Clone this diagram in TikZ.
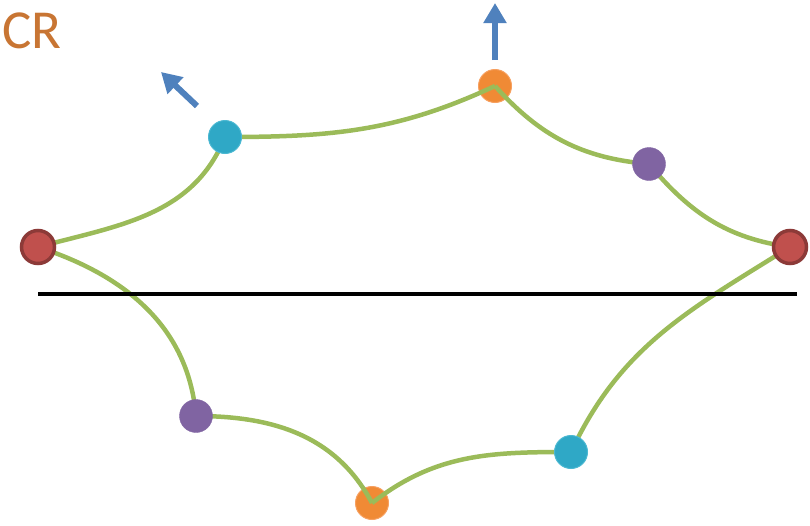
\documentclass[tikz,border=0pt]{standalone}
\usepackage{fontspec}
\setmainfont{Carlito}
\usetikzlibrary{arrows.meta}
\definecolor{grn}{HTML}{9BBB59}
\definecolor{redf}{HTML}{C0504D}
\definecolor{redd}{HTML}{8C3A38}
\definecolor{cyf}{HTML}{2FA8C6}
\definecolor{cyd}{HTML}{4BB8D2}
\definecolor{purf}{HTML}{8064A2}
\definecolor{orf}{HTML}{F08A35}
\definecolor{ord}{HTML}{F7A060}
\definecolor{blu}{HTML}{4F81BD}
\definecolor{crcol}{HTML}{C87533}
\pgfdeclarelayer{orng}\pgfdeclarelayer{lines}
\pgfsetlayers{orng,lines,main}
\tikzset{
  ball/.style={circle,minimum size=#1,inner sep=0pt},
  redball/.style={ball=33pt,fill=redf,draw=redd,line width=3.5pt},
  cyball/.style={ball=33pt,fill=cyf,draw=cyd,line width=1pt},
  purball/.style={ball=33pt,fill=purf,draw=purf},
  orball/.style={ball=33pt,fill=orf,draw=ord,line width=1pt},
  link/.style={draw=grn,line width=4.5pt},
  bluarrow/.style={draw=blu,line width=6pt,-{Triangle[width=22pt,length=20pt]}}
}
\begin{document}
\begin{tikzpicture}[x=1pt,y=-1pt]
\useasboundingbox (0,0) rectangle (810,525);
\node[anchor=north west,text=crcol,font=\fontsize{55}{55}\selectfont,inner sep=0pt] (cr) at (2,13) {CR};
\begin{pgfonlayer}{orng}
\node[orball] (ot) at (495,86) {};
\node[orball] (ob) at (372,503) {};
\end{pgfonlayer}
\node[redball] (rl) at (38,247) {};
\node[redball] (rr) at (790,247) {};
\node[cyball] (ct) at (225,137) {};
\node[purball] (pt) at (649,164) {};
\node[purball] (pb) at (196,416) {};
\node[cyball] (cb) at (571,452) {};
\coordinate (hl0) at (38,294);
\coordinate (hl1) at (797,294);
\draw[line width=4pt,black] (hl0) -- (hl1);
\begin{pgfonlayer}{lines}
\draw[link] (rl.center) to[out=15,in=-112] (ct.center);
\draw[link] (ct.center) to[out=0,in=-155] (ot.center);
\draw[link] (ot.center) to[out=-48,in=175] (pt.center);
\draw[link] (pt.center) to[out=-50,in=172] (rr.center);
\draw[link] (rl.center) to[out=-18,in=95] (pb.center);
\draw[link] (pb.center) to[out=0,in=118] (ob.center);
\draw[link] (ob.center) to[out=38,in=180] (cb.center);
\draw[link] (cb.center) to[out=65,in=-148] (rr.center);
\end{pgfonlayer}
\coordinate (a1s) at (197,106);
\coordinate (a1e) at (161,72);
\coordinate (a2s) at (495,60);
\coordinate (a2e) at (495,3);
\draw[bluarrow] (a1s) -- (a1e);
\draw[bluarrow] (a2s) -- (a2e);
\end{tikzpicture}
\end{document}
